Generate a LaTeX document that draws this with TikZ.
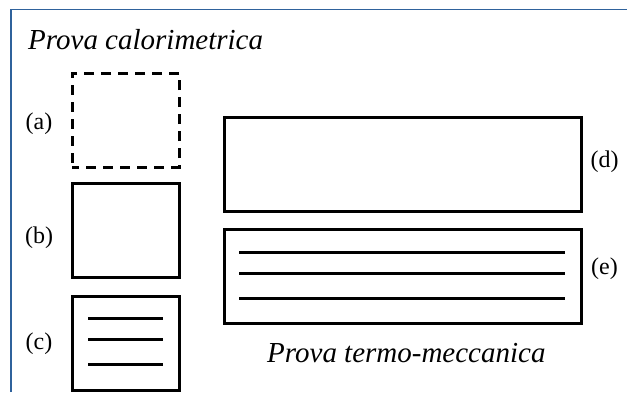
\documentclass[tikz,border=0pt]{standalone}
\usepackage{xcolor}
\usepackage{fontspec}
\usepackage{tikz}
\setmainfont{Liberation Serif}

\definecolor{framecol}{RGB}{47,98,156}

\tikzset{
  specimen/.style={draw, line width=3, inner sep=0, outer sep=0,
    minimum width=107, minimum height=94},
  longspecimen/.style={specimen, minimum width=357},
  dashedspecimen/.style={specimen, dash pattern=on 10pt off 7pt, dash phase=3pt},
  layer/.style={line width=3},
  tag/.style={draw=none, inner sep=0, font=\fontsize{24}{26}\selectfont},
  heading/.style={draw=none, inner sep=0, anchor=base west,
    font=\fontsize{29}{31}\selectfont\itshape}
}

\begin{document}
\begin{tikzpicture}[x=1pt, y=-1pt]
             \useasboundingbox (0, 0) rectangle (627, 392);
             \draw[framecol, line width=1.5] (11, 392) -- (11, 9.5) -- (627, 9.5);

             \node[heading] (calor) at (28, 49) {Prova calorimetrica};
             \node[heading] (termo) at (267, 362) {Prova termo-meccanica};

             \node[dashedspecimen] (boxa) at (125.5, 120) {};
             \node[specimen] (boxb) at (125.5, 230) {};
             \node[specimen] (boxc) at (125.5, 343) {};
             \node[longspecimen] (boxd) at (402.5, 164) {};
             \node[longspecimen] (boxe) at (402.5, 276) {};

             \node[tag] (taga) at (39, 123.5) {(a)};
             \node[tag] (tagb) at (39, 238) {(b)};
             \node[tag] (tagc) at (39, 344) {(c)};
             \node[tag] (tagd) at (604.5, 162) {(d)};
             \node[tag] (tage) at (604.5, 268.5) {(e)};

             \foreach \dy in {-25, -4, 21}
               \draw[layer] ([xshift=-37.5, yshift=-\dy]boxc.center) -- ([xshift=37.5, yshift=-\dy]boxc.center);
             \foreach \dy in {-24, -3, 22}
               \draw[layer] ([xshift=-163.5, yshift=-\dy]boxe.center) -- ([xshift=162.5, yshift=-\dy]boxe.center);
\end{tikzpicture}
\end{document}
